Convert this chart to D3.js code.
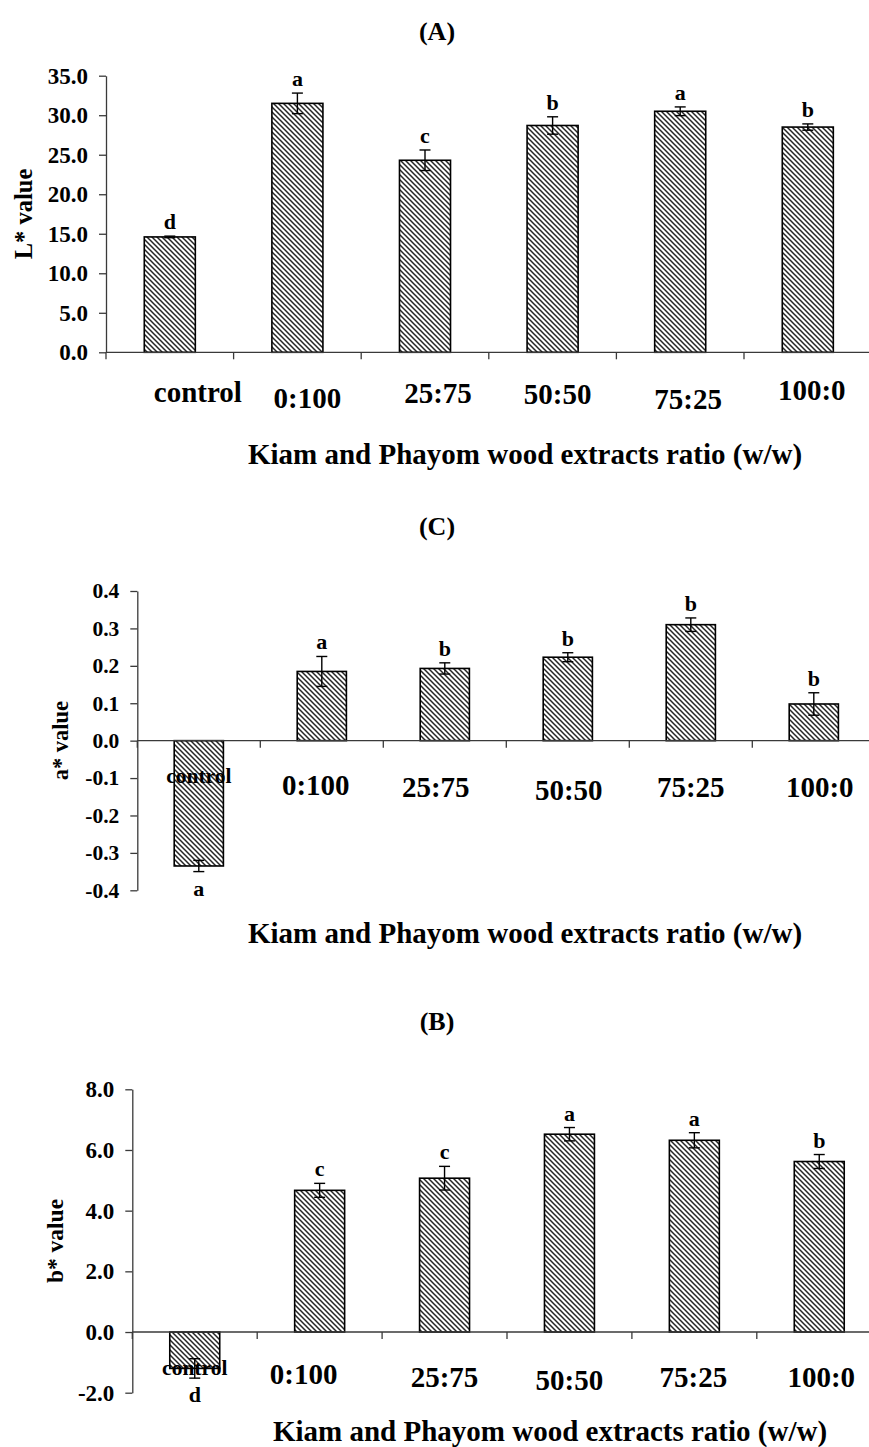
<!DOCTYPE html>
<html>
<head>
<meta charset="utf-8">
<script src="https://cdn.jsdelivr.net/npm/d3@7"></script>
<style>
  html, body { margin: 0; padding: 0; background: #fff; }
  svg { display: block; }
  text { font-family: "Liberation Serif", "Times New Roman", Times, serif; font-weight: bold; fill: #000; }
</style>
</head>
<body>
<svg id="fig" width="869" height="1447"></svg>
<script>
// Treatments: Kiam : Phayom wood extract ratios
const categories = ["control", "0:100", "25:75", "50:50", "75:25", "100:0"];

// L* (lightness)
const lValues  = [14.6, 31.5, 24.3, 28.7, 30.5, 28.5];
const lErrors  = [0.1, 1.3, 1.3, 1.1, 0.55, 0.4];
const lLetters = ["d", "a", "c", "b", "a", "b"];
const lTicks   = [0, 5, 10, 15, 20, 25, 30, 35];

// a* (redness)
const aValues  = [-0.335, 0.185, 0.193, 0.223, 0.31, 0.098];
const aErrors  = [0.015, 0.04, 0.015, 0.012, 0.018, 0.03];
const aLetters = ["a", "a", "b", "b", "b", "b"];
const aTicks   = [-0.4, -0.3, -0.2, -0.1, 0, 0.1, 0.2, 0.3, 0.4];

// b* (yellowness)
const bValues  = [-1.2, 4.67, 5.07, 6.52, 6.32, 5.62];
const bErrors  = [0.32, 0.23, 0.39, 0.22, 0.25, 0.23];
const bLetters = ["d", "c", "c", "a", "a", "b"];
const bTicks   = [-2, 0, 2, 4, 6, 8];

const xTitle = "Kiam and Phayom wood extracts ratio (w/w)";

// Panel layout (pixel frame of each plot, font sizes, label offsets)
const panels = [
  {
    title: "(A)", titleY: 40,
    values: lValues, errors: lErrors, letters: lLetters, ticks: lTicks,
    domain: [0, 35], left: 106, top: 75.7, bottom: 352.3, step: 127.6,
    yLabel: "L* value", yLabelX: 32, yLabelFont: 24.5, tickFont: 23,
    catFont: 29, ctrlFont: 29, catBase: 52,
    nudge: [[28, -2], [10, 4], [13, -1], [5, 0], [8, 5], [4, -4]],
    xTitleX: 525, xTitleY: 464
  },
  {
    title: "(C)", titleY: 535,
    values: aValues, errors: aErrors, letters: aLetters, ticks: aTicks,
    domain: [-0.4, 0.4], left: 137.3, top: 591, bottom: 890.3, step: 123,
    yLabel: "a* value", yLabelX: 68, yLabelFont: 22.5, tickFont: 21.5,
    catFont: 29, ctrlFont: 21.5, catBase: 54,
    nudge: [[0, -12], [-6, 0], [-9, 2], [1, 5], [0, 2], [6, 2]],
    xTitleX: 525, xTitleY: 943
  },
  {
    title: "(B)", titleY: 1030,
    values: bValues, errors: bErrors, letters: bLetters, ticks: bTicks,
    domain: [-2, 8], left: 132.3, top: 1089.3, bottom: 1392.7, step: 124.9,
    yLabel: "b* value", yLabelX: 62.5, yLabelFont: 23.5, tickFont: 23,
    catFont: 29, ctrlFont: 21.5, catBase: 55,
    nudge: [[0, -12], [-16, -3], [0, 0], [0, 3], [-1, 0], [2, 0]],
    xTitleX: 550, xTitleY: 1441
  }
];

const svg = d3.select("#fig");
svg.append("rect").attr("width", 869).attr("height", 1447).attr("fill", "#fff");

// Diagonal hatch fill used by every bar
const defs = svg.append("defs");
const hatch = defs.append("pattern")
  .attr("id", "hatch")
  .attr("patternUnits", "userSpaceOnUse")
  .attr("width", 5).attr("height", 5);
hatch.append("rect").attr("width", 5).attr("height", 5).attr("fill", "#fff");
hatch.append("path")
  .attr("d", "M-1,-1 L6,6 M-1,4 L1,6 M4,-1 L6,1")
  .attr("stroke", "#262626").attr("stroke-width", 1.5);

const axisColor = "#3a3a3a";

function drawPanel(p) {
  const g = svg.append("g");
  const n = categories.length;
  const x = d3.scaleBand()
    .domain(categories)
    .range([p.left, p.left + p.step * n])
    .paddingInner(0.6).paddingOuter(0.3);
  const y = d3.scaleLinear().domain(p.domain).range([p.bottom, p.top]);
  const bw = x.bandwidth();
  const rows = categories.map((c, i) => ({ c, i, v: p.values[i], e: p.errors[i], l: p.letters[i] }));

  // panel title
  g.append("text")
    .attr("x", 437).attr("y", p.titleY)
    .attr("text-anchor", "middle")
    .style("font-size", "26px")
    .text(p.title);

  // bars
  g.selectAll("rect.bar").data(rows).join("rect")
    .attr("class", "bar")
    .attr("x", d => x(d.c))
    .attr("width", bw)
    .attr("y", d => y(Math.max(0, d.v)))
    .attr("height", d => Math.abs(y(d.v) - y(0)))
    .attr("fill", "url(#hatch)")
    .attr("stroke", "#000")
    .attr("stroke-width", 1.6);

  // y axis
  const yAxis = d3.axisLeft(y)
    .tickValues(p.ticks)
    .tickFormat(d => d.toFixed(1))
    .tickSize(7).tickSizeOuter(0).tickPadding(11);
  const ga = g.append("g").attr("transform", `translate(${p.left},0)`).call(yAxis);
  ga.attr("font-family", null).attr("font-size", null);
  ga.select(".domain").attr("stroke", axisColor).attr("stroke-width", 1.3);
  ga.selectAll(".tick line").attr("stroke", axisColor).attr("stroke-width", 1.3);
  ga.selectAll(".tick text").style("font-size", p.tickFont + "px").attr("fill", "#000");

  // x axis at zero with ticks on category boundaries
  const y0 = y(0);
  const x0 = x.range()[0];
  g.append("line")
    .attr("x1", x0).attr("x2", 869)
    .attr("y1", y0).attr("y2", y0)
    .attr("stroke", axisColor).attr("stroke-width", 1.3);
  g.selectAll("line.cat-tick").data(d3.range(n + 1)).join("line")
    .attr("class", "cat-tick")
    .attr("x1", i => x0 + i * x.step()).attr("x2", i => x0 + i * x.step())
    .attr("y1", y0).attr("y2", y0 + 7)
    .attr("stroke", axisColor).attr("stroke-width", 1.3);

  // error bars
  const cap = 5.5;
  const eg = g.selectAll("g.err").data(rows).join("g").attr("class", "err")
    .attr("stroke", "#000").attr("stroke-width", 1.4);
  eg.append("line")
    .attr("x1", d => x(d.c) + bw / 2).attr("x2", d => x(d.c) + bw / 2)
    .attr("y1", d => y(d.v - d.e)).attr("y2", d => y(d.v + d.e));
  eg.append("line")
    .attr("x1", d => x(d.c) + bw / 2 - cap).attr("x2", d => x(d.c) + bw / 2 + cap)
    .attr("y1", d => y(d.v + d.e)).attr("y2", d => y(d.v + d.e));
  eg.append("line")
    .attr("x1", d => x(d.c) + bw / 2 - cap).attr("x2", d => x(d.c) + bw / 2 + cap)
    .attr("y1", d => y(d.v - d.e)).attr("y2", d => y(d.v - d.e));

  // significance letters
  g.selectAll("text.sig").data(rows).join("text")
    .attr("class", "sig")
    .attr("x", d => x(d.c) + bw / 2)
    .attr("y", d => d.v >= 0 ? y(d.v + d.e) - 7 : y(d.v - d.e) + 24)
    .attr("text-anchor", "middle")
    .style("font-size", "22px")
    .text(d => d.l);

  // category labels
  g.selectAll("text.cat").data(rows).join("text")
    .attr("class", "cat")
    .attr("x", d => x(d.c) + bw / 2 + p.nudge[d.i][0])
    .attr("y", d => y0 + p.catBase + p.nudge[d.i][1])
    .attr("text-anchor", "middle")
    .style("font-size", d => (d.i === 0 ? p.ctrlFont : p.catFont) + "px")
    .text(d => d.c);

  // axis titles
  g.append("text")
    .attr("transform", `translate(${p.yLabelX},${(p.top + p.bottom) / 2}) rotate(-90)`)
    .attr("text-anchor", "middle")
    .style("font-size", p.yLabelFont + "px")
    .text(p.yLabel);
  g.append("text")
    .attr("x", p.xTitleX).attr("y", p.xTitleY)
    .attr("text-anchor", "middle")
    .style("font-size", "29px")
    .text(xTitle);
}

panels.forEach(drawPanel);
</script>
</body>
</html>
